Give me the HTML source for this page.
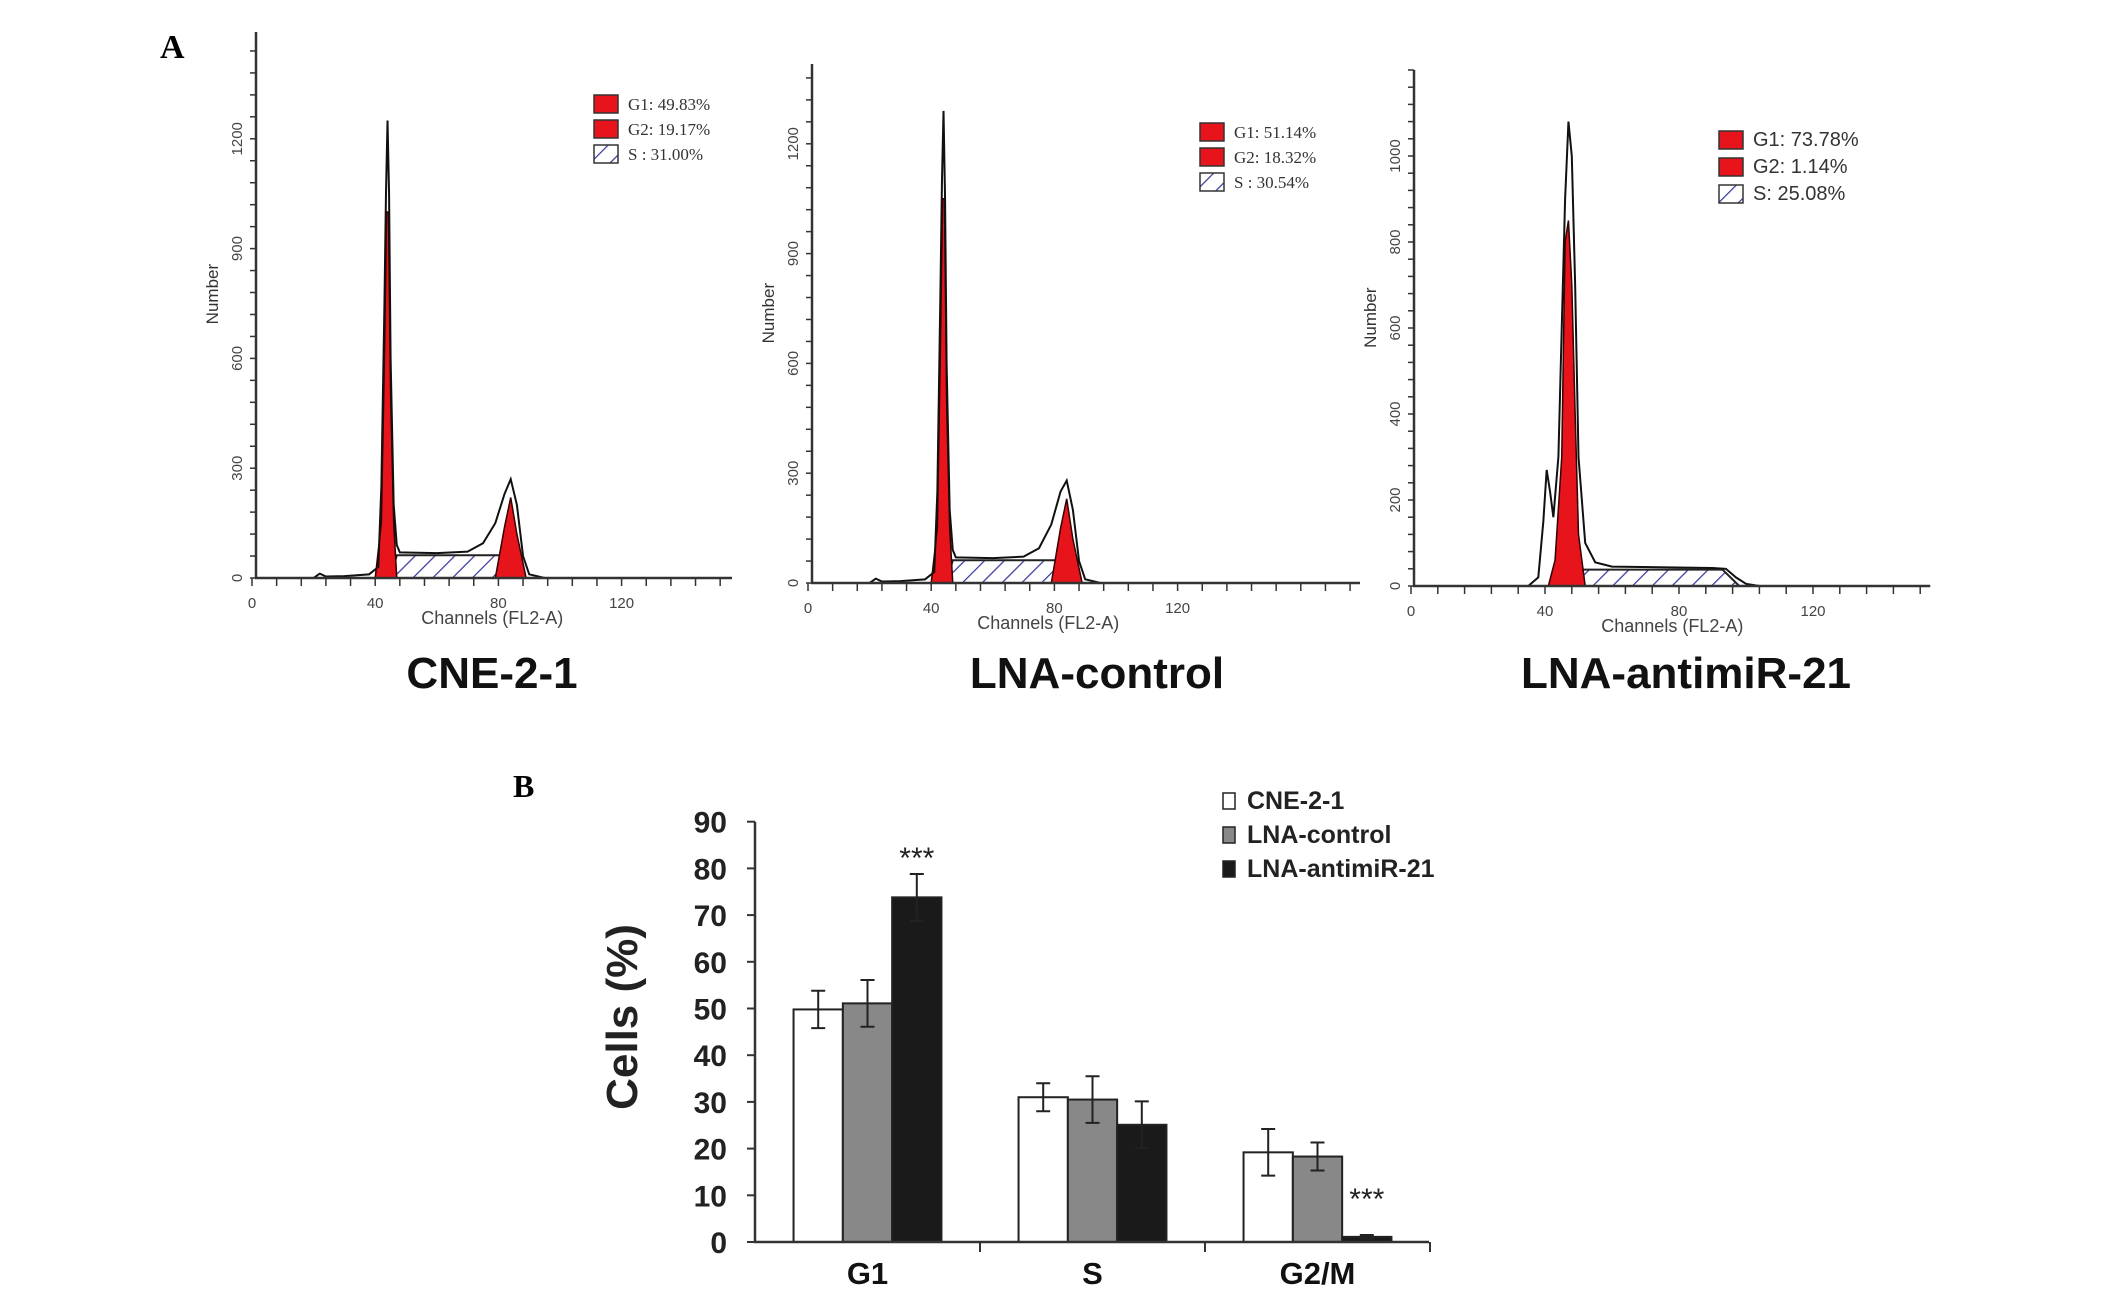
<!DOCTYPE html>
<html><head><meta charset="utf-8"><style>
body{margin:0;background:#fff;}
svg{display:block;}
</style></head><body>
<svg id="fig" width="2126" height="1296" viewBox="0 0 2126 1296" xmlns="http://www.w3.org/2000/svg">
<defs>
<pattern id="hatch" patternUnits="userSpaceOnUse" width="14" height="14" patternTransform="rotate(45)">
<rect width="14" height="14" fill="#fff"/><line x1="0" y1="0" x2="0" y2="14" stroke="#3a3aa0" stroke-width="2.5"/>
</pattern>
</defs>
<text x="160" y="58" font-family="Liberation Serif, serif" font-weight="bold" font-size="34">A</text>
<text x="513" y="797" font-family="Liberation Serif, serif" font-weight="bold" font-size="32">B</text>
<g id="hists"></g>
<g id="bars"></g>
</svg>
<script>
// ---------- Panel A histogram data ----------
const h1Outline = [[20,0],[22,12],[24,4],[30,5],[38,10],[41,30],[42,250],[43,750],[43.5,1050],[44,1250],[44.5,1050],[45,600],[46,200],[47,90],[48,70],[60,68],[70,72],[75,95],[79,150],[82,230],[84,270],[86,200],[88,60],[90,10],[95,0],[155,0]];
const h1G1 = [[40,0],[42,150],[43,600],[43.7,1000],[44.3,1000],[45,500],[46,150],[47,0]];
const h1G2 = [[79,0],[82,140],[84,220],[86,120],[89,0]];
const h1S = [[45,0],[47,62],[81,62],[86,0]];
const h1Legend = ['G1: 49.83%','G2: 19.17%','S : 31.00%'];

const h2Outline = [[20,0],[22,12],[24,4],[30,5],[38,10],[41,30],[42,250],[43,800],[43.5,1100],[44,1290],[44.5,1050],[45,600],[46,200],[47,90],[48,70],[60,68],[70,72],[75,95],[79,160],[82,250],[84,280],[86,200],[88,60],[90,10],[95,0],[155,0]];
const h2G1 = [[40,0],[42,150],[43,650],[43.7,1050],[44.3,1050],[45,500],[46,150],[47,0]];
const h2G2 = [[79,0],[82,150],[84,230],[86,120],[89,0]];
const h2S = [[45,0],[47,62],[81,62],[86,0]];
const h2Legend = ['G1: 51.14%','G2: 18.32%','S : 30.54%'];

const h3Outline = [[35,0],[38,20],[39.5,150],[40.5,270],[41.5,220],[42.5,160],[44,300],[46,900],[47,1080],[48,1000],[49,700],[50,300],[52,100],[55,55],[60,45],[90,42],[94,40],[97,20],[100,5],[104,0],[155,0]];
const h3G1 = [[41,0],[43,60],[45,300],[46,800],[47,850],[48,700],[49,400],[50,120],[52,0]];
const h3G2 = [];
const h3S = [[45,0],[49,38],[93,38],[98,0]];
const h3Legend = ['G1: 73.78%','G2: 1.14%','S: 25.08%'];

const hYTicks1 = [0,300,600,900,1200];
const hYTicks3 = [0,200,400,600,800,1000];
const hXTicks = [0,40,80,120];
const hTitles = ['CNE-2-1','LNA-control','LNA-antimiR-21'];

// ---------- Panel B bar data ----------
const categories = ['G1','S','G2/M'];
const seriesNames = ['CNE-2-1','LNA-control','LNA-antimiR-21'];
const cneValues = [49.8,31.0,19.2];
const ctrlValues = [51.1,30.5,18.3];
const antiValues = [73.8,25.1,1.1];
const cneErr = [4,3,5];
const ctrlErr = [5,5,3];
const antiErr = [5,5,0.4];
const yTicks = [0,10,20,30,40,50,60,70,80,90];
const starFlags = [[0,2],[2,2]];

const NS='http://www.w3.org/2000/svg';
function mk(tag, attrs, parent){const e=document.createElementNS(NS,tag);for(const k in attrs)e.setAttribute(k,attrs[k]);parent.appendChild(e);return e;}

function drawHist(cfg){
  const g=mk('g',{},document.getElementById('hists'));
  
  
  const X=c=>cfg.x0+c*cfg.xs, Y=v=>cfg.y0-v*cfg.ys;
  const poly=(pts)=>pts.map(p=>X(p[0])+','+Y(p[1])).join(' ');
  if(cfg.S.length){const s=mk('polygon',{points:poly(cfg.S),fill:'url(#hatch)',stroke:'#222','stroke-width':2},g);
    
    }
  [cfg.G1,cfg.G2].forEach((d,i)=>{if(!d.length)return;const p=mk('polygon',{points:poly(d),fill:'#e8141b',stroke:'#300','stroke-width':1.5},g);
    
    });
  const o=mk('polyline',{points:poly(cfg.outline),fill:'none',stroke:'#111','stroke-width':2},g);
  
  
  const ax=mk('path',{d:`M${cfg.ax} ${cfg.top} V${cfg.y0} H${cfg.xend}`,stroke:'#333','stroke-width':2.5,fill:'none'},g);
  
  
  const ymax=(cfg.y0-cfg.top)/cfg.ys;
  for(let v=0;v<=ymax;v+=cfg.minorY){mk('line',{x1:cfg.ax-6,x2:cfg.ax,y1:Y(v),y2:Y(v),stroke:'#333','stroke-width':1.5},g);}
  for(let c=0;X(c)<=cfg.xend;c+=8){mk('line',{x1:X(c),x2:X(c),y1:cfg.y0,y2:cfg.y0+8,stroke:'#333','stroke-width':1.5},g);}
  cfg.yt.forEach(v=>{const t=mk('text',{x:0,y:0,transform:`translate(${cfg.ax-14},${Y(v)}) rotate(-90)`,'text-anchor':'middle','font-family':'Liberation Sans, sans-serif','font-size':15,fill:'#444'},g);t.textContent=v;
    
    });
  hXTicks.forEach(c=>{const t=mk('text',{x:X(c),y:cfg.y0+30,'text-anchor':'middle','font-family':'Liberation Sans, sans-serif','font-size':15,fill:'#444'},g);t.textContent=c;
    
    });
  const yl=mk('text',{transform:`translate(${cfg.ax-38},${cfg.y0-(cfg.y0-cfg.top)*0.52}) rotate(-90)`,'text-anchor':'middle','font-family':'Liberation Sans, sans-serif','font-size':17,fill:'#333'},g);yl.textContent='Number';
  
  
  const xl=mk('text',{x:X(78),y:cfg.y0+46,'text-anchor':'middle','font-family':'Liberation Sans, sans-serif','font-size':18,fill:'#444'},g);xl.textContent='Channels (FL2-A)';
  
  
  const tt=mk('text',{x:cfg.tx,y:688,'text-anchor':'middle','font-family':'Liberation Sans, sans-serif','font-weight':'bold','font-size':44,fill:'#111'},g);tt.textContent=cfg.title;
  
  
  cfg.legend.forEach((s,i)=>{const yy=cfg.ly+i*cfg.lstep;
    const r=mk('rect',{x:cfg.lx,y:yy-cfg.lsq+3,width:cfg.lsq+6,height:cfg.lsq,fill:i<2?'#e8141b':'url(#hatch)',stroke:'#333','stroke-width':1.5},g);
    
    
    const t=mk('text',{x:cfg.lx+cfg.lsq+16,y:yy,'font-family':cfg.lfont,'font-size':cfg.lfs,fill:'#333'},g);t.textContent=s;
    
    });
}
drawHist({name:'histogram-cne-2-1',x0:252,xs:3.08,y0:578,ys:0.366,ax:256,top:32,xend:732,minorY:60,yt:hYTicks1,outline:h1Outline,G1:h1G1,G2:h1G2,S:h1S,legend:h1Legend,title:hTitles[0],tx:492,lx:594,ly:110,lstep:25,lsq:18,lfont:'Liberation Serif, serif',lfs:17});
drawHist({name:'histogram-lna-control',x0:808,xs:3.08,y0:583,ys:0.366,ax:812,top:64,xend:1360,minorY:60,yt:hYTicks1,outline:h2Outline,G1:h2G1,G2:h2G2,S:h2S,legend:h2Legend,title:hTitles[1],tx:1097,lx:1212-12,ly:138,lstep:25,lsq:18,lfont:'Liberation Serif, serif',lfs:17});
drawHist({name:'histogram-lna-antimir-21',x0:1411,xs:3.35,y0:586,ys:0.43,ax:1414,top:70,xend:1930,minorY:40,yt:hYTicks3,outline:h3Outline,G1:h3G1,G2:h3G2,S:h3S,legend:h3Legend,title:hTitles[2],tx:1686,lx:1719,ly:146,lstep:27,lsq:18,lfont:'Liberation Sans, sans-serif',lfs:20});

// ---------- bar chart ----------
(function(){
  const g=document.getElementById('bars');
  
  
  const ax=755, y0=1242, ys=4.67, gw=225, bw=49.3, xend=1429;
  const Y=v=>y0-v*ys;
  const fills=['#fff','#888','#1a1a1a'];
  const vals=[cneValues,ctrlValues,antiValues], errs=[cneErr,ctrlErr,antiErr];
  categories.forEach((c,ci)=>{
    const gx=ax+ci*gw+(gw-3*bw)/2;
    vals.forEach((sv,si)=>{
      const x=gx+si*bw, v=sv[ci];
      const r=mk('rect',{x:x,y:Y(v),width:bw,height:y0-Y(v),fill:fills[si],stroke:'#222','stroke-width':2},g);
      
      
      const e=errs[si][ci], cx=x+bw/2;
      const eb=mk('path',{d:`M${cx} ${Y(v+e)} V${Y(v-e)} M${cx-7} ${Y(v+e)} H${cx+7} M${cx-7} ${Y(v-e)} H${cx+7}`,stroke:'#222','stroke-width':2,fill:'none'},g);
      
      
    });
    const t=mk('text',{x:ax+ci*gw+gw/2,y:1284,'text-anchor':'middle','font-family':'Liberation Sans, sans-serif','font-weight':'bold','font-size':31,fill:'#111'},g);t.textContent=c;
    
    
    mk('line',{x1:ax+(ci+1)*gw,x2:ax+(ci+1)*gw,y1:y0,y2:y0+10,stroke:'#333','stroke-width':2},g);
  });
  starFlags.forEach(f=>{const ci=f[0],si=f[1];const v=vals[si][ci]+errs[si][ci];
    const x=ax+ci*gw+(gw-3*bw)/2+si*bw+bw/2;
    const t=mk('text',{x:x,y:Y(v)-6+(v<5?-20:0),'text-anchor':'middle','font-family':'Liberation Sans, sans-serif','font-size':30,fill:'#222'},g);t.textContent='***';
    
    });
  const axes=mk('path',{d:`M${ax} ${Y(90)} V${y0} H${xend}`,stroke:'#333','stroke-width':2.5,fill:'none'},g);
  
  
  yTicks.forEach(v=>{mk('line',{x1:ax-8,x2:ax,y1:Y(v),y2:Y(v),stroke:'#333','stroke-width':2},g);
    const t=mk('text',{x:ax-28,y:Y(v)+11,'text-anchor':'end','font-family':'Liberation Sans, sans-serif','font-weight':'bold','font-size':30,fill:'#222'},g);t.textContent=v;
    
    });
  const yt=mk('text',{transform:'translate(637,1017) rotate(-90)','text-anchor':'middle','font-family':'Liberation Sans, sans-serif','font-weight':'bold','font-size':44,fill:'#222'},g);yt.textContent='Cells (%)';
  
  
  seriesNames.forEach((s,i)=>{const yy=809+i*34;
    const r=mk('rect',{x:1223,y:yy-16,width:12,height:16,fill:fills[i],stroke:'#222','stroke-width':1.5},g);
    
    
    const t=mk('text',{x:1247,y:yy,'font-family':'Liberation Sans, sans-serif','font-weight':'bold','font-size':25,fill:'#222'},g);t.textContent=s;
    
    });
})();
</script>
</body></html>
